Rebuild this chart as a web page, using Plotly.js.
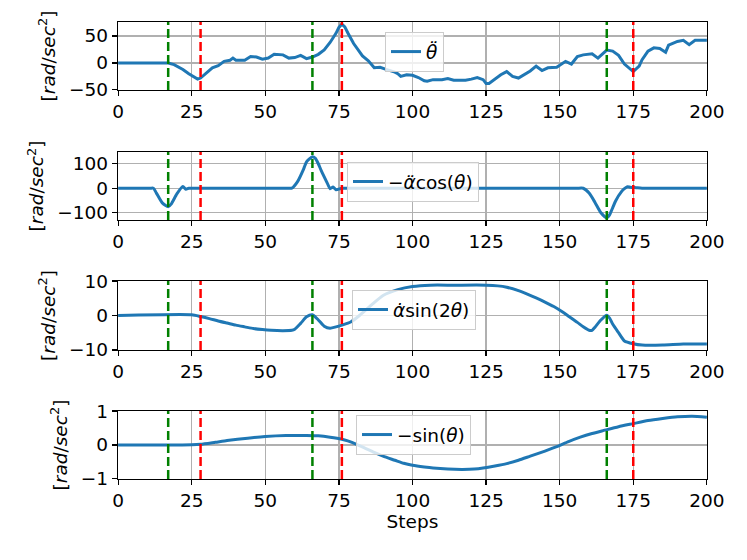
<!DOCTYPE html>
<html>
<head>
<meta charset="utf-8">
<script src="https://cdn.plot.ly/plotly-3.0.1.min.js"></script>
<style>
  html, body { margin: 0; padding: 0; background: #fff; }
  #chart { width: 747px; height: 560px; }
</style>
</head>
<body>
<div id="chart"></div>
<script>
// Event markers (steps)
const greenSteps = [17, 66, 166];
const redSteps = [28, 76, 175];

// theta double dot
const thetaDdStep = [0, 17, 19, 21, 22, 24, 27, 28, 30, 32, 34, 36, 38, 39, 40, 43, 45, 47, 49, 51,
  53, 56, 58, 60, 62, 64, 66, 68, 70, 72, 74, 75, 76, 77, 78, 80, 83, 85, 87, 89,
  91, 93, 94, 95, 96, 98, 100, 102, 104, 105, 107, 110, 112, 114, 118, 120, 122, 124, 125, 126,
  128, 130, 132, 134, 136, 138, 140, 142, 144, 146, 149, 152, 154, 156, 158, 161, 163, 166, 168, 170,
  172, 175, 177, 178, 180, 182, 184, 186, 187, 190, 192, 194, 196, 198, 200];
const thetaDdVal = [0, 0, -3, -9, -12, -20, -30, -28, -18, -9, -5, 3, 5, 9, 5, 5, 12, 11, 7, 9,
  16, 15, 9, 10, 14, 8, 11, 16, 24, 38, 55, 66, 72, 67, 56, 36, 13, 4, -9, -8,
  -12, -15, -17, -20, -25, -22, -23, -27, -33, -34, -31, -31, -29, -32, -32, -30, -27, -31, -38, -38,
  -30, -22, -16, -25, -28, -22, -15, -6, -14, -9, -8, 3, -2, 12, 15, 17, 9, 24, 22, 14,
  -2, -16, -6, 6, 22, 28, 27, 20, 33, 40, 42, 34, 42, 42, 42];

// -alpha double dot * cos(theta)
const accCosStep = [0, 10, 11, 12, 13, 15, 17, 18, 20, 22, 23, 24, 26, 56, 58, 59, 61, 63, 64, 66,
  67, 68, 69, 71, 72, 73, 74, 76, 78, 154, 156, 158, 160, 162, 164, 166, 167, 168, 169, 171,
  172, 173, 174, 176, 178, 200];
const accCosVal = [0, 0, 0, 0, -20, -60, -76, -65, -22, 7, -4, 0, 0, 0, 0, 0, 28, 78, 108, 129,
  122, 100, 72, 22, -2, 5, -6, 0, 0, 0, 0, 0, -20, -58, -100, -121, -108, -80, -52, -14,
  -2, 6, 4, 2, 0, 0];

// alpha dot * sin(2 theta)
const velSinStep = [0, 25, 28, 31, 34, 37, 40, 43, 46, 49, 52, 56, 59, 60, 62, 64, 66, 68, 70, 72,
  74, 76, 79, 82, 86, 90, 95, 100, 106, 114, 125, 129, 132, 136, 139, 142, 145, 148, 151, 153,
  156, 158, 160, 161, 162, 164, 166, 167, 168, 170, 172, 175, 178, 185, 192, 200];
const velSinVal = [0, 0.2, -0.3, -0.9, -1.6, -2.2, -2.8, -3.3, -3.8, -4.1, -4.3, -4.4, -4.3, -4.0, -2.3, -0.4, 0.2, -1.3, -3.1, -3.7,
  -3.3, -2.8, -1.9, 0, 3, 5.8, 7.5, 8.4, 8.8, 8.8, 8.8, 8.6, 8.2, 7.2, 6.2, 5.1, 3.9, 2.6, 1.0, -0.2,
  -2.0, -3.3, -4.3, -4.3, -3.4, -1.3, 0.1, -0.8, -2.5, -5.0, -7.4, -8.2, -8.6, -8.6, -8.3, -8.3];

// -sin(theta)
const sinStep = [0, 20, 25, 28, 33, 37, 44, 50, 57, 64, 68, 72, 76, 78, 81, 84, 87, 90, 94, 97,
  100, 104, 107, 112, 117, 121, 124, 128, 132, 136, 140, 145, 149, 153, 157, 161, 165, 170, 175, 180,
  185, 190, 195, 200];
const sinVal = [0, 0, 0.005, 0.02, 0.08, 0.13, 0.2, 0.25, 0.28, 0.28, 0.27, 0.23, 0.17, 0.12, 0.02, -0.1, -0.22, -0.33, -0.45, -0.54,
  -0.6, -0.65, -0.68, -0.71, -0.72, -0.71, -0.68, -0.62, -0.55, -0.45, -0.33, -0.18, -0.05, 0.1, 0.23, 0.34, 0.43, 0.54, 0.63, 0.72,
  0.78, 0.83, 0.85, 0.82];

const COLORS = {
  series: '#1f77b4',
  green: '#008000',
  red: '#ff0000',
  grid: '#b0b0b0',
  text: '#000000',
};
const FONT = 'DejaVu Sans, sans-serif';
const FONT_SIZE = 18.5;

const panels = [
  { step: thetaDdStep, val: thetaDdVal, name: '<i>θ̈</i>', shape: 'linear',
    range: [-50.2, 76], dtick: 50, domain: [0.8512, 1], legendPos: [0.4533, 0.978] },
  { step: accCosStep, val: accCosVal, name: '−<i>α̈</i>cos(<i>θ</i>)', shape: 'spline',
    range: [-130, 148], dtick: 100, domain: [0.5667, 0.7155], legendPos: [0.3888, 0.6937] },
  { step: velSinStep, val: velSinVal, name: '<i>α̇</i>sin(2<i>θ</i>)', shape: 'spline',
    range: [-10.02, 10.02], dtick: 10, domain: [0.2823, 0.4333], legendPos: [0.3973, 0.4136] },
  { step: sinStep, val: sinVal, name: '−sin(<i>θ</i>)', shape: 'spline',
    range: [-1.003, 1.003], dtick: 1, domain: [0, 0.1488], legendPos: [0.4041, 0.1400] },
];

const data = [];
const shapes = [];
const layout = {
  width: 747,
  height: 560,
  margin: { l: 118, r: 40, t: 22, b: 81 },
  paper_bgcolor: '#fff',
  plot_bgcolor: '#fff',
  font: { family: FONT, size: FONT_SIZE, color: COLORS.text },
  showlegend: true,
};

panels.forEach((p, i) => {
  const sfx = i === 0 ? '' : String(i + 1);
  const legendKey = 'legend' + sfx;

  data.push({
    x: p.step,
    y: p.val,
    type: 'scatter',
    mode: 'lines',
    name: p.name,
    xaxis: 'x' + sfx,
    yaxis: 'y' + sfx,
    legend: legendKey,
    line: { color: COLORS.series, width: 3, shape: p.shape, smoothing: 0.6 },
  });

  greenSteps.forEach(s => shapes.push({
    type: 'line', xref: 'x' + sfx, yref: 'y' + sfx + ' domain',
    x0: s, x1: s, y0: 0, y1: 1,
    line: { color: COLORS.green, width: 2.5, dash: '9px,4px' },
  }));
  redSteps.forEach(s => shapes.push({
    type: 'line', xref: 'x' + sfx, yref: 'y' + sfx + ' domain',
    x0: s, x1: s, y0: 0, y1: 1,
    line: { color: COLORS.red, width: 2.5, dash: '9px,4px' },
  }));

  layout['xaxis' + sfx] = {
    anchor: 'y' + sfx,
    range: [-0.05, 200.05],
    tick0: 0,
    dtick: 25,
    ticks: 'outside',
    ticklen: 5,
    tickwidth: 1.2,
    tickcolor: '#000',
    showline: true,
    linecolor: '#000',
    linewidth: 1.2,
    mirror: true,
    showgrid: true,
    gridcolor: COLORS.grid,
    gridwidth: 1.2,
    zeroline: false,
    tickfont: { family: FONT, size: FONT_SIZE, color: COLORS.text },
    title: i === 3 ? { text: 'Steps', font: { family: FONT, size: FONT_SIZE }, standoff: 3 } : undefined,
  };

  layout['yaxis' + sfx] = {
    anchor: 'x' + sfx,
    domain: p.domain,
    range: p.range,
    tick0: 0,
    dtick: p.dtick,
    ticks: 'outside',
    ticklen: 5,
    tickwidth: 1.2,
    tickcolor: '#000',
    showline: true,
    linecolor: '#000',
    linewidth: 1.2,
    mirror: true,
    showgrid: true,
    gridcolor: COLORS.grid,
    gridwidth: 1.2,
    zeroline: false,
    tickfont: { family: FONT, size: FONT_SIZE, color: COLORS.text },
    title: { text: '[<i>rad</i>/<i>sec</i><sup>2</sup>]', font: { family: FONT, size: FONT_SIZE }, standoff: 8 },
  };

  layout[legendKey] = {
    x: p.legendPos[0],
    y: p.legendPos[1],
    xanchor: 'left',
    yanchor: 'top',
    xref: 'paper',
    yref: 'paper',
    bgcolor: 'rgba(255,255,255,0.8)',
    bordercolor: '#cccccc',
    borderwidth: 1,
    font: { family: FONT, size: FONT_SIZE, color: COLORS.text },
  };
});

layout.shapes = shapes;

Plotly.newPlot('chart', data, layout, { displayModeBar: false, staticPlot: true });
</script>
</body>
</html>
